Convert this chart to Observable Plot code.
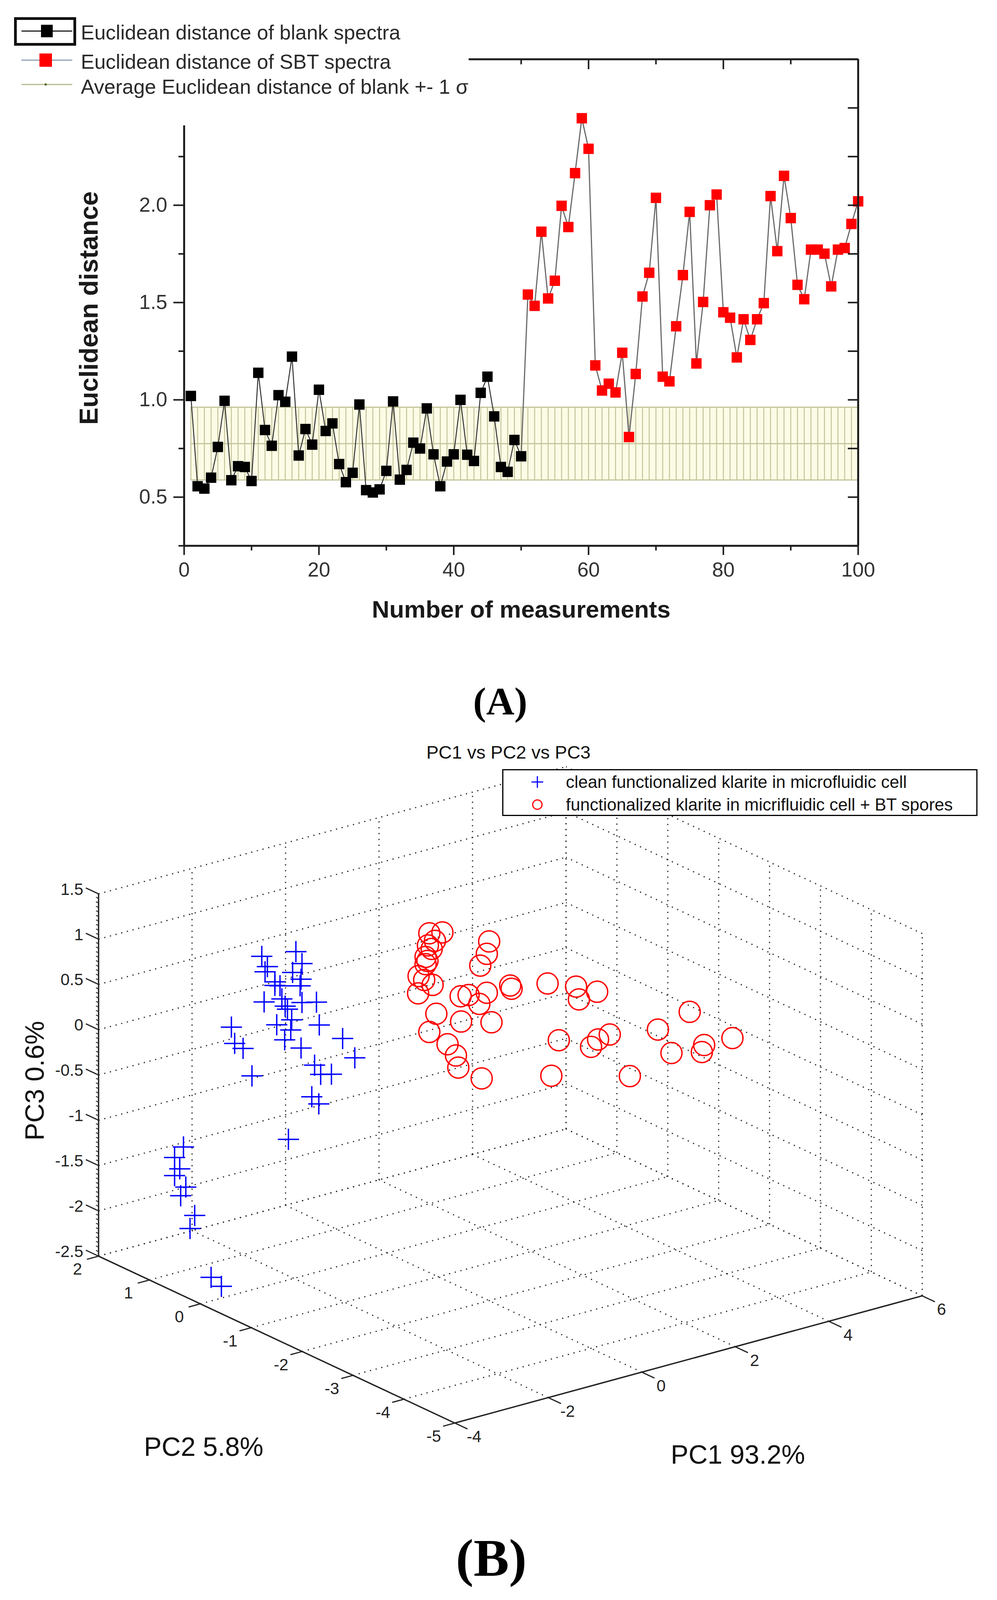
<!DOCTYPE html>
<html>
<head>
<meta charset="utf-8">
<script src="https://cdn.jsdelivr.net/npm/d3@7"></script>
<script src="https://cdn.jsdelivr.net/npm/@observablehq/plot@0.6"></script>
<style>
  html, body { margin: 0; padding: 0; background: #fff; overflow: hidden; }
  #page { position: relative; width: 2553px; overflow: hidden; background: #fff;
          font-family: "Liberation Sans", Arial, sans-serif; color: #222; }
  svg { max-width: none !important; }
</style>
</head>
<body>
<div id="page"></div>

<script>
// ---------------- Panel A data ----------------
const blankValues = [1.02,0.556,0.544,0.60,0.758,0.995,0.587,0.659,0.655,0.583,
  1.139,0.845,0.764,1.024,0.99,1.222,0.714,0.85,0.77,1.052,
  0.84,0.879,0.67,0.577,0.625,0.976,0.536,0.524,0.54,0.635,
  0.992,0.59,0.64,0.78,0.75,0.956,0.72,0.556,0.683,0.72,
  1.0,0.718,0.686,1.036,1.119,0.915,0.655,0.63,0.794,0.71];
const sbtValues = [1.541,1.483,1.864,1.521,1.612,1.997,1.888,2.165,2.447,2.29,
  1.177,1.048,1.083,1.038,1.242,0.809,1.133,1.531,1.653,2.038,
  1.119,1.095,1.378,1.641,1.966,1.187,1.503,2.0,2.055,1.45,
  1.422,1.218,1.414,1.308,1.414,1.497,2.047,1.764,2.151,1.934,
  1.591,1.517,1.772,1.772,1.751,1.583,1.772,1.78,1.904,2.02];
const blankMean = 0.775;
const blankSigma = 0.187;
const xMajorA = [0,20,40,60,80,100];
const xMinorA = [10,30,50,70,90];
const yMajorA = [0.5,1.0,1.5,2.0,2.5];
const yMinorA = [0.25,0.75,1.25,1.75,2.25,2.75];
const xDomainA = [0,100];
const yDomainA = [0.25,2.75];
const legendA = ["Euclidean distance of blank spectra", "Euclidean distance of SBT spectra", "Average Euclidean distance of blank +- 1 σ"];

// ---------------- Panel B data ----------------
const bluePC1 = [-3.23,-3.11,-3.16,-2.95,-2.95,-2.50,-2.37,-2.57,-2.39,-2.41,
  -2.84,-2.80,-2.73,-2.68,-3.18,-2.37,-2.06,-2.91,-2.59,-2.61,
  -2.00,-2.74,-2.39,-1.50,-1.24,-2.10,-1.97,-1.74,-2.16,-2.01,
  -2.66,-3.88,-3.81,-3.63,-3.44,-3.49,-3.68,-3.57,-3.68,-3.44,
  -3.55,-3.25,-3.35,-3.77,-3.55];
const bluePC2 = [-0.5,-0.5,-0.5,-0.5,-0.5,-0.5,-0.5,-0.5,-0.5,-0.5,
  -0.5,-0.5,-0.5,-0.5,-0.5,-0.5,-0.5,-0.5,-0.5,-0.5,
  -0.5,-0.5,-0.5,-0.5,-0.5,-0.5,-0.5,-0.5,-0.5,-0.5,
  -0.5,-0.5,-0.5,-0.5,-0.5,0.8,0.8,0.8,0.8,0.8,
  0.8,0.8,0.8,0.0,0.0];
const bluePC3 = [1.36,1.23,1.18,1.04,1.00,1.31,1.16,1.09,0.99,0.92,
  0.98,0.83,0.74,0.70,0.85,0.73,0.69,0.56,0.57,0.46,
  0.43,0.37,0.23,0.21,-0.04,0.00,-0.12,-0.15,-0.34,-0.44,
  -0.74,0.67,0.48,0.40,0.07,-1.05,-1.14,-1.28,-1.34,-1.50,
  -1.58,-1.84,-1.97,-2.24,-2.37];
const redPC1 = [0.09,-0.19,-0.07,-0.22,-0.14,-0.27,-0.23,-0.27,-0.42,-0.30,
  -0.12,-0.43,1.09,1.04,0.90,1.54,1.57,2.34,2.95,3.01,
  3.40,0.48,0.65,1.04,0.88,-0.04,0.49,1.14,-0.19,0.20,
  0.38,0.43,0.93,2.58,2.42,3.67,3.42,3.27,4.10,4.70,
  5.38,4.99,5.69,5.64,5.75];
const redPC2 = [-1,-1,-1,-1,-1,-1,-1,-1,-1,-1,
  -1,-1,-1,-1,-1,-1,-1,-1,-1,-1,
  -1,-1,-1,-1,-1,-1,-1,-1,-1,-1,
  -1,-1,-1,-1,-1,-1,-1,-1,-1,-1,
  -1,-1,-1,-1,-1.5];
const redPC3 = [1.29,1.32,1.22,1.19,1.14,1.07,1.02,0.99,0.88,0.82,
  0.74,0.69,1.05,0.92,0.81,0.50,0.46,0.41,0.29,0.14,
  0.17,0.53,0.52,0.49,0.39,0.41,0.25,0.15,0.23,0.04,
  -0.11,-0.25,-0.44,-0.25,-0.62,-0.34,-0.36,-0.42,-0.86,-0.43,
  -0.33,-0.73,-0.74,-0.81,-0.54];
const pc1Ticks = [-4,-2,0,2,4,6];
const pc2Ticks = [-5,-4,-3,-2,-1,0,1,2];
const pc3Ticks = [-2.5,-2,-1.5,-1,-0.5,0,0.5,1,1.5];
const pc3MinorStep = 0.05;
const legendB = ["clean functionalized klarite in microfluidic cell", "functionalized klarite in micrifluidic cell + BT spores"];

// ---------------- layout (design is 2553 x 4604; vertical fit to the real window) ----------------
const W = 2553, H = 4604;
const K = Math.min(1, (window.innerHeight || H) / H);
const page = document.getElementById("page");
page.style.height = (H * K) + "px";
function el(tag, css, html) {
  const e = document.createElement(tag);
  e.style.cssText = css;
  if (html !== undefined) e.innerHTML = html;
  return e;
}
const NS = "http://www.w3.org/2000/svg";
function svgEl(tag, attrs) {
  const e = document.createElementNS(NS, tag);
  for (const k in attrs) e.setAttribute(k, attrs[k]);
  return e;
}

// ================= Panel A =================
const blank = blankValues.map((v, i) => ({x: i + 1, y: v}));
const sbt = sbtValues.map((v, i) => ({x: i + 51, y: v}));
const sbtLine = [blank[blank.length - 1], ...sbt];
const lo = blankMean - blankSigma, hi = blankMean + blankSigma;
const measIdx = d3.range(1, 101);
const axC = "#1e1e1e";
const txtC = "#333";

const chartA = Plot.plot({
  width: W, height: 1900 * K,
  marginLeft: 471, marginRight: 356, marginTop: 170 * K, marginBottom: 330 * K,
  x: {domain: xDomainA},
  y: {domain: yDomainA},
  style: {fontFamily: "'Liberation Sans', Arial, sans-serif", background: "transparent", overflow: "visible"},
  marks: [
    Plot.areaY([{x: 1}, {x: 100}], {x: "x", y1: () => lo, y2: () => hi, fill: "#fcfce6"}),
    Plot.ruleX(measIdx, {x: d => d, y1: () => lo, y2: () => hi, stroke: "#c4c49c", strokeWidth: 2.5}),
    Plot.ruleY([lo, blankMean, hi], {y: d => d, x1: () => 1, x2: () => 100, stroke: "#c4c49c", strokeWidth: 3}),
    Plot.line(sbtLine, {x: "x", y: "y", stroke: "#6a6a6a", strokeWidth: 3}),
    Plot.line(blank, {x: "x", y: "y", stroke: "#333", strokeWidth: 2.5}),
    Plot.dot(blank, {x: "x", y: "y", symbol: "square", r: 15, fill: "#000", stroke: "none"}),
    Plot.dot(sbt, {x: "x", y: "y", symbol: "square", r: 15, fill: "#ff0000", stroke: "none"}),
    Plot.ruleX([xDomainA[0]], {stroke: axC, strokeWidth: 5}),
    Plot.ruleX([xDomainA[1]], {stroke: axC, strokeWidth: 5}),
    Plot.ruleY([yDomainA[0]], {stroke: axC, strokeWidth: 5}),
    Plot.ruleY([yDomainA[1]], {stroke: axC, strokeWidth: 5}),
    Plot.axisX({anchor: "bottom", ticks: xMajorA, tickSize: 27 * K, tickPadding: 20 * K, fontSize: 52, label: null, stroke: axC, strokeWidth: 4, fill: txtC, tickFormat: d3.format("d")}),
    Plot.axisX({anchor: "bottom", ticks: xMinorA, tickSize: 14 * K, tickFormat: () => "", label: null, stroke: axC, strokeWidth: 4}),
    Plot.axisX({anchor: "top", ticks: xMajorA, tickSize: -28 * K, tickFormat: () => "", label: null, stroke: axC, strokeWidth: 4}),
    Plot.axisX({anchor: "top", ticks: xMinorA, tickSize: -14 * K, tickFormat: () => "", label: null, stroke: axC, strokeWidth: 4}),
    Plot.axisY({anchor: "left", ticks: yMajorA, tickSize: 27, tickPadding: 16, fontSize: 52, label: null, stroke: axC, strokeWidth: 4, fill: txtC, tickFormat: d3.format(".1f")}),
    Plot.axisY({anchor: "left", ticks: yMinorA, tickSize: 14, tickFormat: () => "", label: null, stroke: axC, strokeWidth: 4}),
    Plot.axisY({anchor: "right", ticks: [...yMajorA, ...yMinorA], tickSize: -27, tickFormat: () => "", label: null, stroke: axC, strokeWidth: 4}),
    Plot.text(["Euclidean distance"], {text: d => d, frameAnchor: "left", dx: -243, dy: 16 * K, rotate: -90, fontSize: 66, fontWeight: "bold", fill: "#1a1a1a", textAnchor: "middle", lineAnchor: "middle"}),
    Plot.text(["Number of measurements"], {text: d => d, frameAnchor: "bottom", dy: 184 * K, fontSize: 62, fontWeight: "bold", fill: "#1a1a1a", textAnchor: "middle", lineAnchor: "middle"})
  ]
});
const holderA = el("div", "position:absolute;left:0;top:0;");
holderA.appendChild(chartA);
page.appendChild(holderA);

// legend A (sits over the top-left corner of the plot frame, white background)
const legA = el("div", `position:absolute;left:0;top:0;width:1200px;height:${361 * K}px;background:#fff;`);
legA.appendChild(el("div", `position:absolute;left:36px;top:${50 * K}px;width:159px;height:${77 * K + 4}px;border:7px solid #111;box-sizing:border-box;`));
const symA = svgEl("svg", {width: 200, height: 300 * K});
symA.style.cssText = "position:absolute;left:0;top:0;overflow:visible";
const rowY = [87 * K + 2, 173 * K, 243 * K];
symA.appendChild(svgEl("line", {x1: 55, x2: 185, y1: rowY[0], y2: rowY[0], stroke: "#222", "stroke-width": 3}));
symA.appendChild(svgEl("rect", {x: 105, y: rowY[0] - 16, width: 30, height: 32, fill: "#000"}));
symA.appendChild(svgEl("line", {x1: 55, x2: 185, y1: rowY[1], y2: rowY[1], stroke: "#8fa0b0", "stroke-width": 3}));
symA.appendChild(svgEl("rect", {x: 101, y: rowY[1] - 17, width: 32, height: 34, fill: "#ff0000"}));
symA.appendChild(svgEl("line", {x1: 55, x2: 185, y1: rowY[2], y2: rowY[2], stroke: "#b9b98e", "stroke-width": 3}));
symA.appendChild(svgEl("circle", {cx: 117, cy: rowY[2], r: 3, fill: "#556b2f"}));
legA.appendChild(symA);
const textYA = [92 * K, 177 * K, 248 * K];
legendA.forEach((t, i) => legA.appendChild(el("div",
  `position:absolute;left:207px;top:${textYA[i] - 25}px;font-size:52px;line-height:52px;color:#2a2a2a;white-space:nowrap;`, t)));
page.appendChild(legA);

page.appendChild(el("div", `position:absolute;left:981px;top:${2057 * K - 84}px;width:600px;text-align:center;font-family:'Liberation Serif','Times New Roman',serif;font-weight:bold;font-size:100px;line-height:100px;color:#000`, "(A)"));

// ================= Panel B =================
const lim1 = [pc1Ticks[0], pc1Ticks[pc1Ticks.length - 1]];
const lim2 = [pc2Ticks[0], pc2Ticks[pc2Ticks.length - 1]];
const lim3 = [pc3Ticks[0], pc3Ticks[pc3Ticks.length - 1]];
// orthographic view: screen px per data unit (x right, y up)
const e1 = [119.7, 36.6 * K], e2 = [-130.3, 68.6 * K], e3 = [0, 260.6 * K];
function proj(p1, p2, p3) {
  const a = p1 - lim1[0], b = p2 - lim2[0], c = p3 - lim3[0];
  return [a * e1[0] + b * e2[0] + c * e3[0], a * e1[1] + b * e2[1] + c * e3[1]];
}
function seg(A, B) {
  const P = proj(...A), Q = proj(...B);
  return {x1: P[0], y1: P[1], x2: Q[0], y2: Q[1]};
}
const grid = [];
pc1Ticks.filter(t => t !== lim1[0]).forEach(t => grid.push(seg([t, lim2[1], lim3[0]], [t, lim2[1], lim3[1]])));
pc3Ticks.forEach(t => grid.push(seg([lim1[0], lim2[1], t], [lim1[1], lim2[1], t])));
pc2Ticks.forEach(t => grid.push(seg([lim1[1], t, lim3[0]], [lim1[1], t, lim3[1]])));
pc3Ticks.forEach(t => grid.push(seg([lim1[1], lim2[0], t], [lim1[1], lim2[1], t])));
pc1Ticks.filter(t => t !== lim1[0]).forEach(t => grid.push(seg([t, lim2[0], lim3[0]], [t, lim2[1], lim3[0]])));
pc2Ticks.filter(t => t !== lim2[0]).forEach(t => grid.push(seg([lim1[0], t, lim3[0]], [lim1[1], t, lim3[0]])));

const axes3 = [
  seg([lim1[0], lim2[1], lim3[0]], [lim1[0], lim2[1], lim3[1]]),
  seg([lim1[0], lim2[0], lim3[0]], [lim1[0], lim2[1], lim3[0]]),
  seg([lim1[0], lim2[0], lim3[0]], [lim1[1], lim2[0], lim3[0]])
];
const nMinor = Math.round((lim3[1] - lim3[0]) / pc3MinorStep);
const pc3Minor = d3.range(1, nMinor).map(i => lim3[0] + i * pc3MinorStep);
const ticks3 = [
  ...pc3Ticks.map(t => seg([lim1[0], lim2[1], t], [lim1[0], lim2[1] + 0.25, t])),
  ...pc2Ticks.map(t => seg([lim1[0], t, lim3[0]], [lim1[0] - 0.25, t, lim3[0]])),
  ...pc1Ticks.map(t => seg([t, lim2[0], lim3[0]], [t, lim2[0] - 0.25, lim3[0]]))
];
const minorTicks3 = pc3Minor.map(t => seg([lim1[0], lim2[1], t], [lim1[0], lim2[1] + 0.05, t]));
const zLabels = pc3Ticks.map(t => { const p = proj(lim1[0], lim2[1] + 0.3, t); return {x: p[0], y: p[1], t: String(t)}; });
const yLabels = pc2Ticks.map(t => { const p = proj(lim1[0] - 0.45, t, lim3[0]); return {x: p[0], y: p[1], t: String(t)}; });
const xLabels = pc1Ticks.map(t => { const p = proj(t, lim2[0] - 0.38, lim3[0]); return {x: p[0], y: p[1], t: String(t)}; });

const blueData = bluePC1.map((v, i) => { const p = proj(v, bluePC2[i], bluePC3[i]); return {x: p[0], y: p[1]}; });
const redData = redPC1.map((v, i) => { const p = proj(v, redPC2[i], redPC3[i]); return {x: p[0], y: p[1]}; });

const topB = 2050 * K;
const HB = H * K - topB;
const frontCorner = [1164, 2044 * K]; // pixel position of the (min, min, min) box corner inside the SVG
const chartB = Plot.plot({
  width: W, height: HB, margin: 0,
  x: {domain: [-frontCorner[0], W - frontCorner[0]], axis: null},
  y: {domain: [frontCorner[1] - HB, frontCorner[1]], axis: null},
  style: {fontFamily: "'Liberation Sans', Arial, sans-serif", background: "transparent", overflow: "visible"},
  marks: [
    Plot.link(grid, {x1: "x1", y1: "y1", x2: "x2", y2: "y2", stroke: "#222", strokeWidth: 3, strokeDasharray: "3,12"}),
    Plot.link(axes3, {x1: "x1", y1: "y1", x2: "x2", y2: "y2", stroke: "#222", strokeWidth: 3.5}),
    Plot.link(ticks3, {x1: "x1", y1: "y1", x2: "x2", y2: "y2", stroke: "#222", strokeWidth: 3}),
    Plot.link(minorTicks3, {x1: "x1", y1: "y1", x2: "x2", y2: "y2", stroke: "#333", strokeWidth: 2.5}),
    Plot.text(zLabels, {x: "x", y: "y", text: "t", textAnchor: "end", dy: 8 * K, fontSize: 42, fill: "#222"}),
    Plot.text(yLabels, {x: "x", y: "y", text: "t", textAnchor: "middle", dy: 22 * K, fontSize: 42, fill: "#222"}),
    Plot.text(xLabels, {x: "x", y: "y", text: "t", textAnchor: "middle", dy: 14 * K, fontSize: 42, fill: "#222"}),
    Plot.dot(blueData, {x: "x", y: "y", symbol: "plus", r: 17.5, fill: "none", stroke: "#0000ff", strokeWidth: 3.5}),
    Plot.dot(redData, {x: "x", y: "y", symbol: "circle", r: 27, fill: "none", stroke: "#ff0000", strokeWidth: 3.5}),
    Plot.text(["PC1 93.2%"], {text: d => d, frameAnchor: "top-left", dx: 1889, dy: 2137 * K, fontSize: 68, fill: "#111", textAnchor: "middle", lineAnchor: "middle"}),
    Plot.text(["PC2 5.8%"], {text: d => d, frameAnchor: "top-left", dx: 521, dy: 2114 * K, fontSize: 68, fill: "#111", textAnchor: "middle", lineAnchor: "middle"}),
    Plot.text(["PC3 0.6%"], {text: d => d, frameAnchor: "top-left", dx: 90, dy: 1059 * K, rotate: -90, fontSize: 68, fill: "#111", textAnchor: "middle", lineAnchor: "middle"})
  ]
});
const holderB = el("div", `position:absolute;left:0;top:${topB}px;`);
holderB.appendChild(chartB);
page.appendChild(holderB);

// title and legend of panel B
page.appendChild(el("div", `position:absolute;left:802px;top:${2164 * K - 23}px;width:1000px;text-align:center;font-size:47px;line-height:47px;color:#111`, "PC1 vs PC2 vs PC3"));
const boxTop = 2213 * K, boxH = 135 * K;
const legB = el("div", `position:absolute;left:1286px;top:${boxTop}px;width:1217px;height:${boxH}px;border:3px solid #000;box-sizing:border-box;background:#fff;`);
const rowB = [37 * K - 3, 102 * K - 3];
const symB = svgEl("svg", {width: 160, height: boxH});
symB.style.cssText = "position:absolute;left:0;top:0;overflow:visible";
symB.appendChild(svgEl("line", {x1: 72, x2: 102, y1: rowB[0], y2: rowB[0], stroke: "#0000ff", "stroke-width": 3}));
symB.appendChild(svgEl("line", {x1: 87, x2: 87, y1: rowB[0] - 15, y2: rowB[0] + 15, stroke: "#0000ff", "stroke-width": 3}));
symB.appendChild(svgEl("circle", {cx: 87, cy: rowB[1], r: 12, fill: "none", stroke: "#ff0000", "stroke-width": 3}));
legB.appendChild(symB);
legendB.forEach((t, i) => legB.appendChild(el("div",
  `position:absolute;left:160px;top:${rowB[i] - 22}px;font-size:44px;line-height:44px;color:#111;white-space:nowrap;`, t)));
page.appendChild(legB);

page.appendChild(el("div", `position:absolute;left:958px;top:${4534 * K - 114}px;width:600px;text-align:center;font-family:'Liberation Serif','Times New Roman',serif;font-weight:bold;font-size:136px;line-height:136px;color:#000`, "(B)"));
</script>
</body>
</html>
